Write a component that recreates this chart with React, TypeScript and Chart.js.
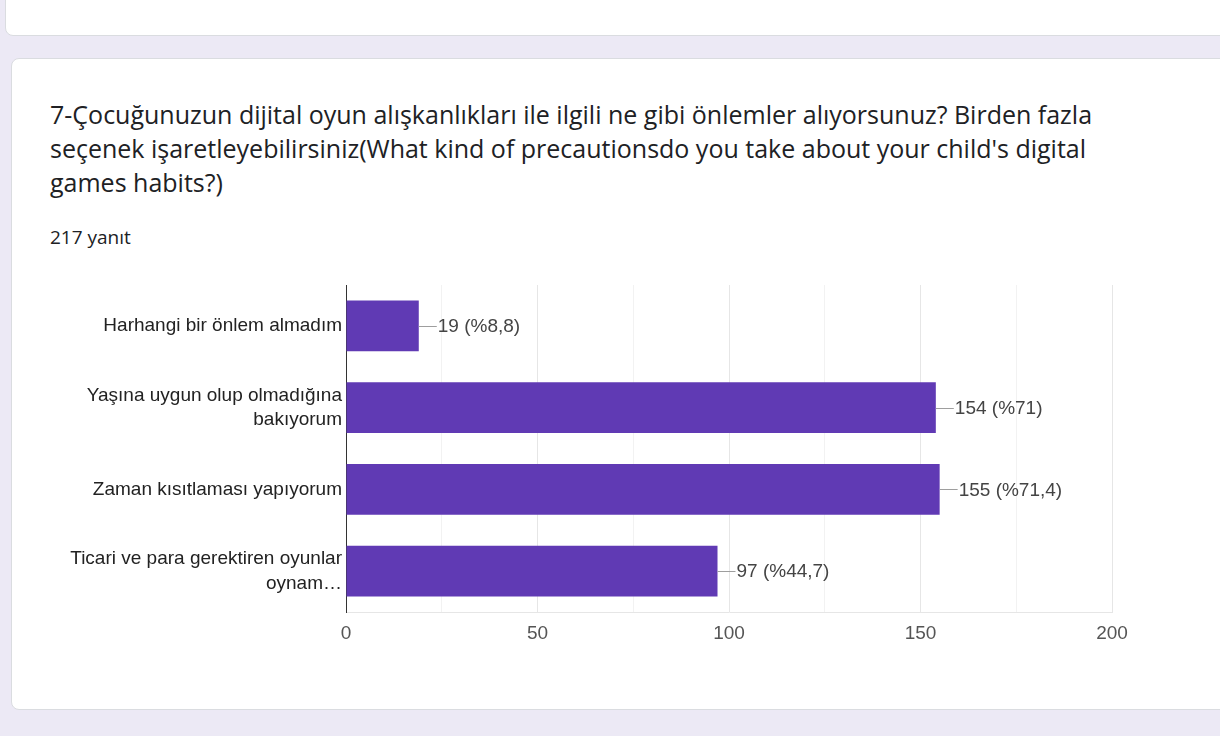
import React, { useEffect, useRef } from "react";
import { Chart, registerables } from "chart.js";

Chart.register(...registerables);

const categories: (string | string[])[] = [
  "Harhangi bir önlem almadım",
  ["Yaşına uygun olup olmadığına", "bakıyorum"],
  "Zaman kısıtlaması yapıyorum",
  ["Ticari ve para gerektiren oyunlar", "oynam…"],
];
const counts = [19, 154, 155, 97];
const valueLabels = ["19 (%8,8)", "154 (%71)", "155 (%71,4)", "97 (%44,7)"];
const xTicks = [0, 50, 100, 150, 200];

const titleLines = [
  "7-Çocuğunuzun dijital oyun alışkanlıkları ile ilgili ne gibi önlemler alıyorsunuz? Birden fazla",
  "seçenek işaretleyebilirsiniz(What kind of precautionsdo you take about your child's digital",
  "games habits?)",
];
const responseText = "217 yanıt";

const LABEL_FONT = "'Liberation Sans', Arial, sans-serif";

const valueLabelPlugin = {
  id: "valueLabels",
  afterDatasetsDraw(chart: any) {
    const ctx = chart.ctx;
    const meta = chart.getDatasetMeta(0);
    ctx.save();
    meta.data.forEach((bar: any, i: number) => {
      const x = bar.x;
      const y = bar.y;
      ctx.strokeStyle = "#9e9e9e";
      ctx.lineWidth = 1;
      ctx.beginPath();
      ctx.moveTo(x, Math.round(y) + 0.5);
      ctx.lineTo(x + 18, Math.round(y) + 0.5);
      ctx.stroke();
      ctx.fillStyle = "#444444";
      ctx.font = `19px ${LABEL_FONT}`;
      ctx.textAlign = "left";
      ctx.textBaseline = "middle";
      ctx.fillText(valueLabels[i], x + 19, y + 1);
    });
    ctx.restore();
  },
};

function BarChart() {
  const ref = useRef<HTMLCanvasElement>(null);
  useEffect(() => {
    if (!ref.current) return;
    const chart = new Chart(ref.current, {
      type: "bar",
      data: {
        labels: categories,
        datasets: [
          {
            data: counts,
            backgroundColor: "#603ab4",
            barPercentage: 0.62,
            categoryPercentage: 1,
          },
        ],
      },
      options: {
        indexAxis: "y",
        animation: false,
        responsive: false,
        maintainAspectRatio: false,
        layout: { padding: { top: 35, right: 88, left: 0, bottom: 0 } },
        plugins: {
          legend: { display: false },
          tooltip: { enabled: false },
        },
        scales: {
          x: {
            min: xTicks[0],
            max: xTicks[xTicks.length - 1],
            afterBuildTicks: (scale: any) => {
              const t: any[] = [];
              for (let v = xTicks[0]; v <= xTicks[xTicks.length - 1]; v += 25) t.push({ value: v });
              scale.ticks = t;
            },
            afterFit: (scale: any) => {
              scale.height = 58;
            },
            ticks: {
              autoSkip: false,
              maxRotation: 0,
              padding: 10,
              color: "#555555",
              font: { family: LABEL_FONT, size: 19 },
              callback: (v: any) => (xTicks.includes(Number(v)) ? String(v) : ""),
            },
            grid: {
              drawTicks: false,
              color: (ctx: any) =>
                ctx.tick && xTicks.includes(ctx.tick.value) ? "#e6e6e6" : "#f2f2f2",
            },
            border: { display: true, color: "#e6e6e6", width: 1 },
          },
          y: {
            afterFit: (scale: any) => {
              scale.width = 346;
            },
            ticks: {
              padding: 4,
              color: "#222222",
              font: { family: LABEL_FONT, size: 19, lineHeight: 1.3 },
            },
            grid: { display: false, drawTicks: false },
            border: { display: true, color: "#333333", width: 1 },
          },
        },
      },
      plugins: [valueLabelPlugin],
    });
    return () => chart.destroy();
  }, []);
  return (
    <canvas
      ref={ref}
      width={1200}
      height={420}
      style={{ position: "absolute", left: 0, top: 250, width: 1200, height: 420 }}
    />
  );
}

export default function App() {
  return (
    <div
      style={{
        position: "absolute",
        left: 0,
        top: 0,
        width: 1220,
        height: 736,
        overflow: "hidden",
        background: "#ece9f5",
      }}
    >
      <div
        style={{
          position: "absolute",
          left: 5,
          top: -20,
          width: 1260,
          height: 56,
          background: "#ffffff",
          border: "1px solid #dadce0",
          borderRadius: 8,
          boxSizing: "border-box",
        }}
      />
      <div
        style={{
          position: "absolute",
          left: 11,
          top: 58,
          width: 1260,
          height: 652,
          background: "#ffffff",
          border: "1px solid #dadce0",
          borderRadius: 8,
          boxSizing: "border-box",
        }}
      />
      {titleLines.map((line, i) => (
        <div
          key={i}
          style={{
            position: "absolute",
            left: 50,
            top: 98 + i * 34,
            whiteSpace: "nowrap",
            fontFamily: "'Open Sans', Roboto, sans-serif",
            fontSize: 25,
            lineHeight: "32px",
            color: "#202124",
          }}
        >
          {line}
        </div>
      ))}
      <div
        style={{
          position: "absolute",
          left: 50,
          top: 225,
          whiteSpace: "nowrap",
          fontFamily: "'Open Sans', Roboto, sans-serif",
          fontSize: 19,
          lineHeight: "24px",
          color: "#202124",
        }}
      >
        {responseText}
      </div>
      <BarChart />
    </div>
  );
}
